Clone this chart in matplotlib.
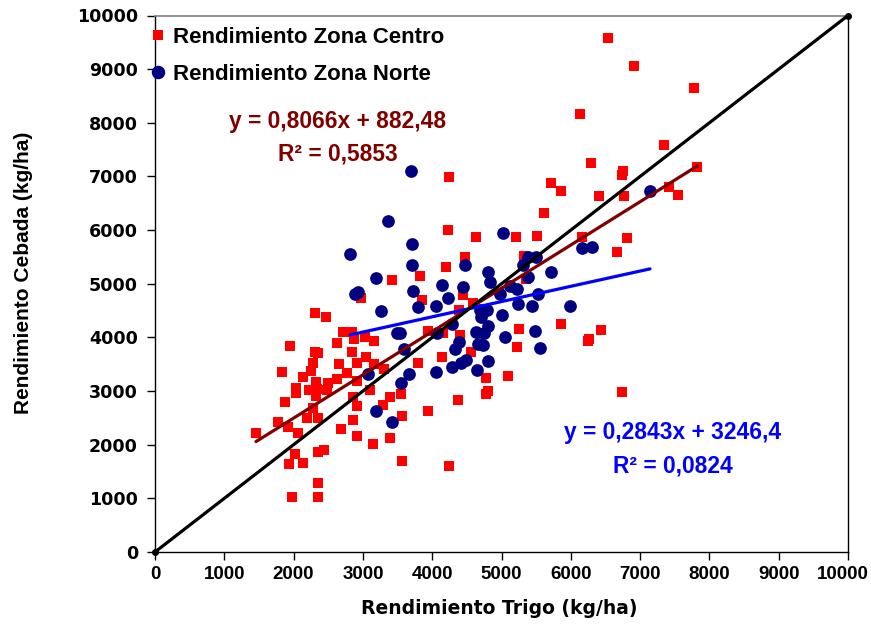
import matplotlib
matplotlib.use("Agg")
import matplotlib.pyplot as plt
from matplotlib.lines import Line2D
from matplotlib.transforms import ScaledTranslation

# Wheat (x) vs barley (y) yields, kg/ha
centro_trigo = [
    6541, 6916, 7773, 6137, 7345, 6287, 6760, 6746, 7825, 5714, 5859, 6411, 6768,
    7420, 7550, 5613, 5512, 6162, 6815, 6664, 5859, 6439, 6263, 6244, 6746,
    4247, 4224, 4628, 5205, 4473, 4199, 3824, 5325, 5354, 4449, 3849, 4593, 4391,
    5257, 3944, 4160, 4401, 5228, 4556, 4146, 3799, 5098, 4776, 4812, 4776, 4377,
    3944, 3560, 3560, 4247, 3416, 2973,
    2309, 2463, 2717, 2838, 2872, 3030, 3164, 2631, 1955, 2309, 2356, 2838, 2276,
    2659, 2911, 3040, 3160, 1828, 2251, 2140, 2775, 2622, 2323, 2501, 2911, 3304,
    2030, 2222, 2342, 2478, 3102, 2035, 2323, 1876, 2853, 3391, 3545, 2911, 3286,
    2276, 2198, 2356, 1775, 2862, 1924, 2684, 1457, 2068, 2911, 3391, 3141, 2356,
    2443, 2020, 1934, 2131, 2356, 1981, 2356,
]
centro_cebada = [
    9581, 9065, 8649, 8170, 7586, 7245, 7102, 7027, 7171, 6873, 6729, 6627, 6627,
    6798, 6654, 6313, 5890, 5872, 5862, 5586, 4246, 4147, 3965, 3933, 2973,
    6996, 6002, 5866, 5866, 5504, 5318, 5145, 5517, 5089, 4790, 4688, 4636, 4511,
    4151, 4110, 4073, 4036, 3827, 3737, 3629, 3529, 3281, 3249, 3010, 2936, 2833,
    2628, 2535, 1702, 1603, 5079, 4729,
    4461, 4386, 4106, 4106, 3965, 4002, 3939, 3901, 3840, 3734, 3704, 3734, 3529,
    3499, 3529, 3629, 3504, 3361, 3374, 3256, 3342, 3225, 3174, 3145, 3187, 3405,
    3051, 3020, 3033, 3020, 3020, 2958, 2913, 2802, 2895, 2895, 2940, 2721, 2740,
    2679, 2492, 2492, 2429, 2460, 2330, 2293, 2224, 2224, 2157, 2119, 2013, 1870,
    1901, 1827, 1640, 1665, 1292, 1025, 1025,
]

norte_trigo = [
    3690, 3367, 2814, 3185, 2925, 2886, 3704, 3704, 3730, 3261, 3488, 3593, 3672,
    3545, 3069, 3189, 3416, 3799, 4051, 4146, 4224, 4449, 4473, 4801, 4827, 5026,
    5123, 5228, 4978, 5306, 5387, 5502, 5387, 5522, 5710, 5245, 5436, 5988, 6165,
    6312, 7143, 4690, 4791, 4697, 5003, 4281, 4801, 4632, 4747, 4076, 3535, 5483,
    5055, 4391, 4657, 4737, 4329, 5556, 4481, 4416, 4284, 4801, 4651, 4051,
]
norte_cebada = [
    7102, 6170, 5555, 5113, 4852, 4809, 5735, 5350, 4874, 4492, 4077, 3778, 3327,
    3145, 3318, 2634, 2429, 4561, 4591, 4977, 4729, 4940, 5350, 5210, 5033, 5941,
    4958, 4899, 4800, 5350, 5504, 5499, 5132, 4805, 5214, 4623, 4585, 4591, 5667,
    5691, 6735, 4511, 4511, 4371, 4418, 4250, 4207, 4106, 4077, 4077, 4091, 4110,
    4002, 3914, 3872, 3864, 3788, 3797, 3584, 3517, 3454, 3560, 3392, 3350,
]

# Linear fits reported for each zone
centro_pendiente, centro_ordenada, centro_r2 = 0.8066, 882.48, 0.5853
norte_pendiente, norte_ordenada, norte_r2 = 0.2843, 3246.4, 0.0824

ejes_ticks = list(range(0, 10001, 1000))
ejes_etiquetas = [str(v) for v in ejes_ticks]

ROJO = "#FF0000"
AZUL_OSC = "#000080"
GRANATE = "#800000"
AZUL = "#0000FF"


def coma(v, dec):
    return f"{v:.{dec}f}".replace(".", ",")


W, H = 871, 632
fig = plt.figure(figsize=(W / 100, H / 100), dpi=100)
ax = fig.add_axes([155 / W, 1 - 552 / H, (848 - 155) / W, (552 - 15.5) / H])

ax.scatter(centro_trigo, centro_cebada, marker="s", s=52, color=ROJO,
           linewidths=0, zorder=2)
ax.scatter(norte_trigo, norte_cebada, marker="o", s=84, color=AZUL_OSC,
           linewidths=0, zorder=3)

# 1:1 reference line
ax.plot([0, 10000], [0, 10000], color="black", lw=2.3, marker="o", ms=4,
        zorder=5, clip_on=False, solid_capstyle="round")

# Trend lines over each zone's wheat range
xc = [min(centro_trigo), max(centro_trigo)]
ax.plot(xc, [centro_pendiente * x + centro_ordenada for x in xc],
        color=GRANATE, lw=2.3, zorder=4, solid_capstyle="round")
xn = [min(norte_trigo), max(norte_trigo)]
ax.plot(xn, [norte_pendiente * x + norte_ordenada for x in xn],
        color=AZUL, lw=2.3, zorder=4, solid_capstyle="round")

ax.set_xlim(0, 10000)
ax.set_ylim(0, 10000)
ax.set_xticks(ejes_ticks)
ax.set_xticklabels(ejes_etiquetas, family="Liberation Sans",
                   fontweight="bold", fontsize=13.5)
ax.set_yticks(ejes_ticks)
ax.set_yticklabels(ejes_etiquetas, family="DejaVu Sans",
                   fontweight="bold", fontsize=12.6)
ax.tick_params(axis="x", direction="out", length=5.8, width=1, pad=4)
ax.tick_params(axis="y", direction="out", length=5.8, width=1, pad=6.5)

# keep the last wheat label inside the canvas
ultima = ax.get_xticklabels()[-1]
ultima.set_horizontalalignment("right")
ultima.set_transform(ultima.get_transform()
                     + ScaledTranslation(21 / 100, 0, fig.dpi_scale_trans))

for lado in ("left", "bottom", "right"):
    ax.spines[lado].set_color("black")
    ax.spines[lado].set_linewidth(1)
ax.spines["top"].set_color("#808080")
ax.spines["top"].set_linewidth(1.2)

fig.text(499 / W, 1 - 608 / H, "Rendimiento Trigo (kg/ha)", ha="center",
         va="center", family="DejaVu Sans", fontweight="bold", fontsize=13.5)
fig.text(24 / W, 1 - 273 / H, "Rendimiento Cebada (kg/ha)", ha="center",
         va="center", rotation=90, family="Liberation Sans",
         fontweight="bold", fontsize=15)

# Fit equations
txt = dict(family="Liberation Sans", fontweight="bold", fontsize=16.4,
           ha="center", va="center", transform=ax.transAxes)
ax.text(0.264, 0.803,
        f"y = {coma(centro_pendiente, 4)}x + {coma(centro_ordenada, 2)}",
        color=GRANATE, **txt)
ax.text(0.264, 0.742, f"R² = {coma(centro_r2, 4)}", color=GRANATE, **txt)
ax.text(0.7475, 0.222,
        f"y = {coma(norte_pendiente, 4)}x + {coma(norte_ordenada, 1)}",
        color=AZUL, **txt)
ax.text(0.7475, 0.160, f"R² = {coma(norte_r2, 4)}", color=AZUL, **txt)

handles = [
    Line2D([], [], ls="none", marker="s", ms=7.2, color=ROJO, mew=0),
    Line2D([], [], ls="none", marker="o", ms=9.7, color=AZUL_OSC, mew=0),
]
ax.legend(handles, ["Rendimiento Zona Centro", "Rendimiento Zona Norte"],
          loc="upper left", bbox_to_anchor=(149 / W, 1 - 27 / H),
          bbox_transform=fig.transFigure, frameon=False, borderpad=0,
          borderaxespad=0, handlelength=0.8, handletextpad=0.3,
          labelspacing=0.72,
          prop={"family": "Liberation Sans", "weight": "bold", "size": 16})

fig.savefig("out.png", dpi=100)
